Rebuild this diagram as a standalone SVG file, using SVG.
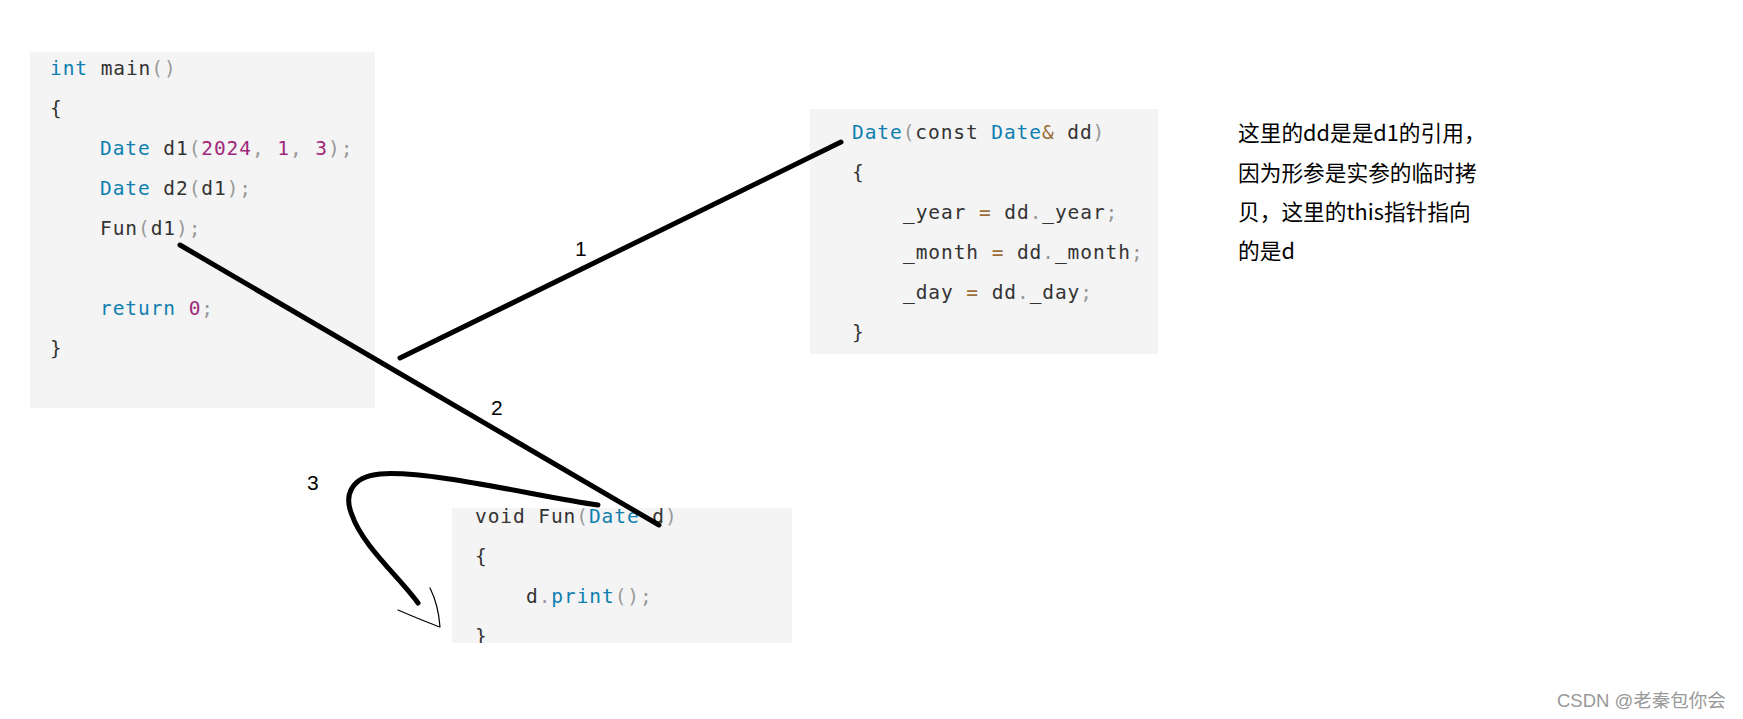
<svg xmlns="http://www.w3.org/2000/svg" width="1743" height="719" viewBox="0 0 1743 719">
<defs>
<style>
.box{fill:#f4f4f4}
.code{font-family:"DejaVu Sans Mono","Liberation Mono",monospace;font-size:19.5px;letter-spacing:0.92px;fill:#333}
.kw{fill:#0f7fb0}
.num{fill:#a0287a}
.pu{fill:#999}
.op{fill:#9a6e3a}
.note{font-family:"Noto Sans CJK SC","Noto Sans",sans-serif;font-size:21.7px;fill:#000}
.lbl{font-family:"Liberation Sans","Noto Sans",sans-serif;font-size:21px;fill:#000}
.wm{font-family:"Liberation Sans","Noto Sans CJK SC",sans-serif;font-size:18.5px;fill:#999}
.stroke{fill:none;stroke:#000;stroke-width:5;stroke-linecap:round;stroke-linejoin:round}
.thin{fill:none;stroke:#000;stroke-width:1.2;stroke-linecap:round}
</style>
<clipPath id="c3"><rect x="452" y="508" width="340" height="135"/></clipPath>
</defs>

<g id="main-box">
<rect class="box" x="30" y="52" width="345" height="356"/>
<text class="code" x="50" y="75"><tspan class="kw">int</tspan> main<tspan class="pu">()</tspan></text>
<text class="code" x="50" y="115">{</text>
<text class="code" x="100" y="155"><tspan class="kw">Date</tspan> d1<tspan class="pu">(</tspan><tspan class="num">2024</tspan><tspan class="pu">,</tspan> <tspan class="num">1</tspan><tspan class="pu">,</tspan> <tspan class="num">3</tspan><tspan class="pu">);</tspan></text>
<text class="code" x="100" y="195"><tspan class="kw">Date</tspan> d2<tspan class="pu">(</tspan>d1<tspan class="pu">);</tspan></text>
<text class="code" x="100" y="235">Fun<tspan class="pu">(</tspan>d1<tspan class="pu">);</tspan></text>
<text class="code" x="100" y="315"><tspan class="kw">return</tspan> <tspan class="num">0</tspan><tspan class="pu">;</tspan></text>
<text class="code" x="50" y="355">}</text>
</g>

<g id="copy-ctor-box">
<rect class="box" x="810" y="109" width="348" height="245"/>
<text class="code" x="852" y="139"><tspan class="kw">Date</tspan><tspan class="pu">(</tspan>const <tspan class="kw">Date</tspan><tspan class="op">&amp;</tspan> dd<tspan class="pu">)</tspan></text>
<text class="code" x="852" y="179">{</text>
<text class="code" x="903" y="219">_year <tspan class="op">=</tspan> dd<tspan class="pu">.</tspan>_year<tspan class="pu">;</tspan></text>
<text class="code" x="903" y="259">_month <tspan class="op">=</tspan> dd<tspan class="pu">.</tspan>_month<tspan class="pu">;</tspan></text>
<text class="code" x="903" y="299">_day <tspan class="op">=</tspan> dd<tspan class="pu">.</tspan>_day<tspan class="pu">;</tspan></text>
<text class="code" x="852" y="339">}</text>
</g>

<g id="fun-box">
<rect class="box" x="452" y="508" width="340" height="135"/>
<g clip-path="url(#c3)">
<text class="code" x="475" y="523">void Fun<tspan class="pu">(</tspan><tspan class="kw">Date</tspan> d<tspan class="pu">)</tspan></text>
<text class="code" x="475" y="563">{</text>
<text class="code" x="526" y="603">d<tspan class="pu">.</tspan><tspan class="kw">print</tspan><tspan class="pu">();</tspan></text>
<text class="code" x="475" y="643">}</text>
</g>
</g>

<g id="note">
<text class="note" x="1238" y="141">这里的dd是是d1的引用，</text>
<text class="note" x="1238" y="181">因为形参是实参的临时拷</text>
<text class="note" x="1238" y="220">贝，这里的this指针指向</text>
<text class="note" x="1238" y="259">的是d</text>
</g>

<g id="connectors">
<path class="stroke" d="M400,358 L841,142"/>
<path class="stroke" d="M180,245 L659,525"/>
<path class="stroke" d="M598,505 C540,497 430,470 380,474 C350,477 344,496 352,515 C362,545 400,578 418,603"/>
<path class="thin" d="M430,588 C436,600 439,612 440,627 M398,610 C412,616 426,622 440,627"/>
<text class="lbl" x="575" y="256">1</text>
<text class="lbl" x="491" y="415">2</text>
<text class="lbl" x="307" y="490">3</text>
</g>

<text class="wm" x="1557" y="707">CSDN @老秦包你会</text>
</svg>
